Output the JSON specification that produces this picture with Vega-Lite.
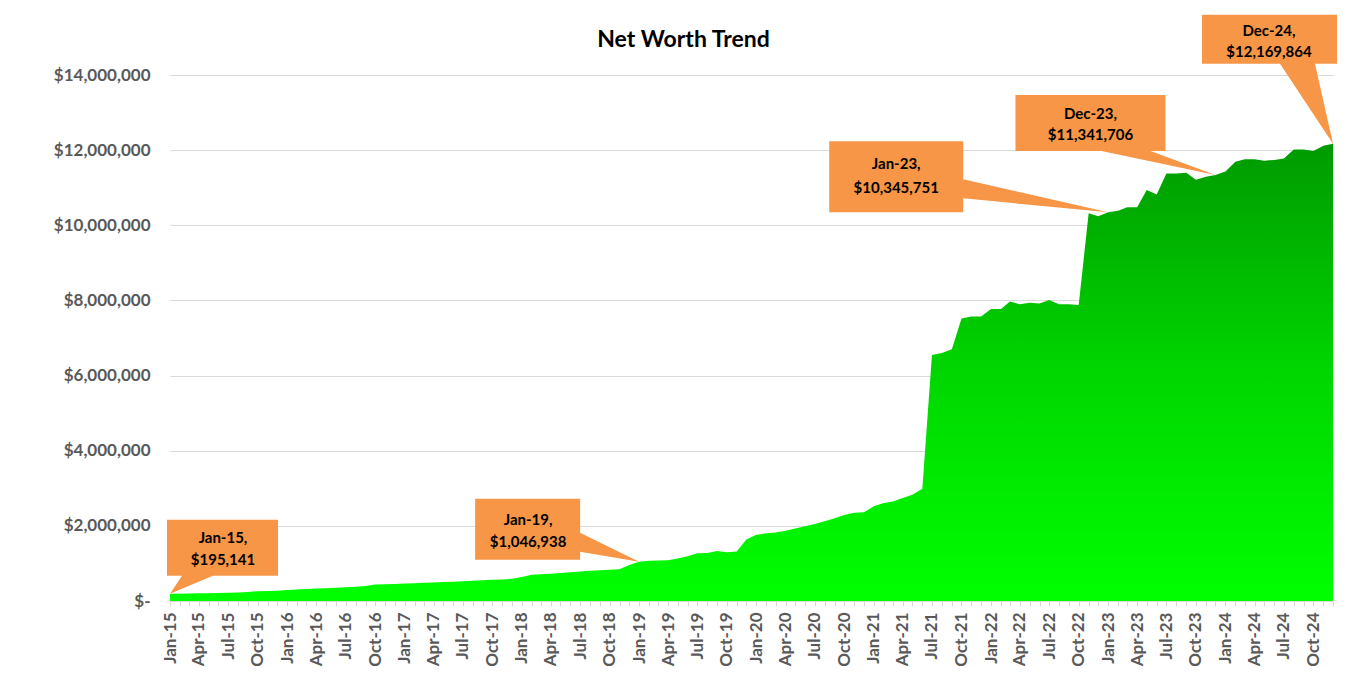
{
  "$schema": "https://vega.github.io/schema/vega-lite/v6.json",
  "autosize": {"type": "none"},
  "padding": {"left": 170, "top": 75, "right": 30, "bottom": 80},
  "width": 1163,
  "height": 526,
  "background": "#ffffff",
  "title": {"text": "Net Worth Trend", "font": "Lato", "fontSize": 23, "fontWeight": "bold", "color": "#000000", "anchor": "middle", "dx": -68, "dy": 63, "offset": 26},
  "config": {
    "view": {"stroke": null},
    "axis": {"labelFont": "Lato", "labelFontWeight": "bold", "labelColor": "#595959", "title": null}
  },
  "data": {"values": [
    {"date": "2015-01-01", "value": 195141}, {"date": "2015-02-01", "value": 196000}, {"date": "2015-03-01", "value": 199000}, {"date": "2015-04-01", "value": 203000}, {"date": "2015-05-01", "value": 207000}, {"date": "2015-06-01", "value": 212000}, {"date": "2015-07-01", "value": 218000}, {"date": "2015-08-01", "value": 225000}, {"date": "2015-09-01", "value": 240000}, {"date": "2015-10-01", "value": 262000}, {"date": "2015-11-01", "value": 268000}, {"date": "2015-12-01", "value": 275000},
    {"date": "2016-01-01", "value": 290000}, {"date": "2016-02-01", "value": 305000}, {"date": "2016-03-01", "value": 318000}, {"date": "2016-04-01", "value": 330000}, {"date": "2016-05-01", "value": 342000}, {"date": "2016-06-01", "value": 352000}, {"date": "2016-07-01", "value": 365000}, {"date": "2016-08-01", "value": 378000}, {"date": "2016-09-01", "value": 400000}, {"date": "2016-10-01", "value": 440000}, {"date": "2016-11-01", "value": 448000}, {"date": "2016-12-01", "value": 455000},
    {"date": "2017-01-01", "value": 465000}, {"date": "2017-02-01", "value": 475000}, {"date": "2017-03-01", "value": 485000}, {"date": "2017-04-01", "value": 495000}, {"date": "2017-05-01", "value": 505000}, {"date": "2017-06-01", "value": 515000}, {"date": "2017-07-01", "value": 525000}, {"date": "2017-08-01", "value": 538000}, {"date": "2017-09-01", "value": 550000}, {"date": "2017-10-01", "value": 565000}, {"date": "2017-11-01", "value": 575000}, {"date": "2017-12-01", "value": 590000},
    {"date": "2018-01-01", "value": 640000}, {"date": "2018-02-01", "value": 700000}, {"date": "2018-03-01", "value": 715000}, {"date": "2018-04-01", "value": 725000}, {"date": "2018-05-01", "value": 745000}, {"date": "2018-06-01", "value": 765000}, {"date": "2018-07-01", "value": 785000}, {"date": "2018-08-01", "value": 805000}, {"date": "2018-09-01", "value": 820000}, {"date": "2018-10-01", "value": 830000}, {"date": "2018-11-01", "value": 845000}, {"date": "2018-12-01", "value": 960000},
    {"date": "2019-01-01", "value": 1046938}, {"date": "2019-02-01", "value": 1070000}, {"date": "2019-03-01", "value": 1080000}, {"date": "2019-04-01", "value": 1085000}, {"date": "2019-05-01", "value": 1130000}, {"date": "2019-06-01", "value": 1190000}, {"date": "2019-07-01", "value": 1270000}, {"date": "2019-08-01", "value": 1280000}, {"date": "2019-09-01", "value": 1330000}, {"date": "2019-10-01", "value": 1300000}, {"date": "2019-11-01", "value": 1320000}, {"date": "2019-12-01", "value": 1640000},
    {"date": "2020-01-01", "value": 1760000}, {"date": "2020-02-01", "value": 1800000}, {"date": "2020-03-01", "value": 1820000}, {"date": "2020-04-01", "value": 1870000}, {"date": "2020-05-01", "value": 1930000}, {"date": "2020-06-01", "value": 1990000}, {"date": "2020-07-01", "value": 2050000}, {"date": "2020-08-01", "value": 2120000}, {"date": "2020-09-01", "value": 2200000}, {"date": "2020-10-01", "value": 2290000}, {"date": "2020-11-01", "value": 2350000}, {"date": "2020-12-01", "value": 2360000},
    {"date": "2021-01-01", "value": 2520000}, {"date": "2021-02-01", "value": 2610000}, {"date": "2021-03-01", "value": 2650000}, {"date": "2021-04-01", "value": 2740000}, {"date": "2021-05-01", "value": 2830000}, {"date": "2021-06-01", "value": 2990000}, {"date": "2021-07-01", "value": 6550000}, {"date": "2021-08-01", "value": 6600000}, {"date": "2021-09-01", "value": 6700000}, {"date": "2021-10-01", "value": 7520000}, {"date": "2021-11-01", "value": 7570000}, {"date": "2021-12-01", "value": 7570000},
    {"date": "2022-01-01", "value": 7770000}, {"date": "2022-02-01", "value": 7770000}, {"date": "2022-03-01", "value": 7970000}, {"date": "2022-04-01", "value": 7900000}, {"date": "2022-05-01", "value": 7940000}, {"date": "2022-06-01", "value": 7920000}, {"date": "2022-07-01", "value": 8010000}, {"date": "2022-08-01", "value": 7900000}, {"date": "2022-09-01", "value": 7900000}, {"date": "2022-10-01", "value": 7880000}, {"date": "2022-11-01", "value": 10320000}, {"date": "2022-12-01", "value": 10240000},
    {"date": "2023-01-01", "value": 10345751}, {"date": "2023-02-01", "value": 10390000}, {"date": "2023-03-01", "value": 10480000}, {"date": "2023-04-01", "value": 10480000}, {"date": "2023-05-01", "value": 10940000}, {"date": "2023-06-01", "value": 10820000}, {"date": "2023-07-01", "value": 11380000}, {"date": "2023-08-01", "value": 11380000}, {"date": "2023-09-01", "value": 11400000}, {"date": "2023-10-01", "value": 11210000}, {"date": "2023-11-01", "value": 11290000}, {"date": "2023-12-01", "value": 11341706},
    {"date": "2024-01-01", "value": 11430000}, {"date": "2024-02-01", "value": 11690000}, {"date": "2024-03-01", "value": 11760000}, {"date": "2024-04-01", "value": 11760000}, {"date": "2024-05-01", "value": 11720000}, {"date": "2024-06-01", "value": 11740000}, {"date": "2024-07-01", "value": 11780000}, {"date": "2024-08-01", "value": 12020000}, {"date": "2024-09-01", "value": 12020000}, {"date": "2024-10-01", "value": 11980000}, {"date": "2024-11-01", "value": 12120000}, {"date": "2024-12-01", "value": 12169864}
  ]},
  "encoding": {
    "x": {"field": "date", "type": "temporal", "scale": {"type": "utc", "nice": false},
      "axis": {"tickCount": {"interval": "month", "step": 1}, "labelAngle": 270, "labelFontSize": 17, "labelPadding": 6, "labelOverlap": false, "labelFlush": false, "labelBound": false, "grid": false, "domainColor": "#d9d9d9", "tickColor": "#d9d9d9", "tickSize": 5,
        "labelExpr": "utcmonth(datum.value) % 3 == 0 ? utcFormat(datum.value, '%b-%y') : ''"}},
    "y": {"field": "value", "type": "quantitative", "scale": {"domain": [0, 14000000], "nice": false},
      "axis": {"values": [0, 2000000, 4000000, 6000000, 8000000, 10000000, 12000000, 14000000], "labelFontSize": 17, "labelPadding": 20, "domain": false, "ticks": false, "gridColor": "#d9d9d9", "gridWidth": 1,
        "labelExpr": "datum.value == 0 ? '$-' : '$' + format(datum.value, ',')"}}
  },
  "layer": [
    {"mark": {"type": "area", "interpolate": "linear", "color": {"gradient": "linear", "x1": 0, "y1": 1, "x2": 0, "y2": 0, "stops": [{"offset": 0, "color": "#00ff00"}, {"offset": 0.5, "color": "#00d600"}, {"offset": 1, "color": "#009a00"}]}}},
    {"transform": [{"filter": "datum.value == 195141"}], "mark": {"type": "point", "filled": true, "opacity": 1, "size": 4, "color": "#F79646", "strokeWidth": 0, "shape": "M0,0 L12,-18 L-3,-18 L-3,-74 L108,-74 L108,-18 L43,-18 Z"}},
    {"transform": [{"filter": "datum.value == 1046938"}], "mark": {"type": "point", "filled": true, "opacity": 1, "size": 4, "color": "#F79646", "strokeWidth": 0, "shape": "M0,0 L-59,-10 L-59,-2 L-164,-2 L-164,-63 L-59,-63 L-59,-29 Z"}},
    {"transform": [{"filter": "datum.value == 10345751"}], "mark": {"type": "point", "filled": true, "opacity": 1, "size": 4, "color": "#F79646", "strokeWidth": 0, "shape": "M0,0 L-145,-14 L-145,0 L-279,0 L-279,-71 L-145,-71 L-145,-33 Z"}},
    {"transform": [{"filter": "datum.value == 11341706"}], "mark": {"type": "point", "filled": true, "opacity": 1, "size": 4, "color": "#F79646", "strokeWidth": 0, "shape": "M0,0 L-65,-24 L-50,-24 L-50,-80 L-200,-80 L-200,-24 L-114,-24 Z"}},
    {"transform": [{"filter": "datum.value == 12169864"}], "mark": {"type": "point", "filled": true, "opacity": 1, "size": 4, "color": "#F79646", "strokeWidth": 0, "shape": "M0,0 L-18,-80 L4,-80 L4,-129 L-131,-129 L-131,-80 L-53,-80 Z"}},
    {"transform": [{"filter": "datum.value == 195141"}], "mark": {"type": "text", "font": "Lato", "fontSize": 15, "fontWeight": "bold", "color": "#000000", "align": "center", "baseline": "middle", "dx": 53, "dy": -56}, "encoding": {"text": {"field": "date", "type": "temporal", "timeUnit": "utcyearmonth", "format": "%b-%y,"}}},
    {"transform": [{"filter": "datum.value == 195141"}], "mark": {"type": "text", "font": "Lato", "fontSize": 15, "fontWeight": "bold", "color": "#000000", "align": "center", "baseline": "middle", "dx": 53, "dy": -34}, "encoding": {"text": {"field": "value", "type": "quantitative", "format": "$,.0f"}}},
    {"transform": [{"filter": "datum.value == 1046938"}], "mark": {"type": "text", "font": "Lato", "fontSize": 15, "fontWeight": "bold", "color": "#000000", "align": "center", "baseline": "middle", "dx": -111, "dy": -42}, "encoding": {"text": {"field": "date", "type": "temporal", "timeUnit": "utcyearmonth", "format": "%b-%y,"}}},
    {"transform": [{"filter": "datum.value == 1046938"}], "mark": {"type": "text", "font": "Lato", "fontSize": 15, "fontWeight": "bold", "color": "#000000", "align": "center", "baseline": "middle", "dx": -111, "dy": -20}, "encoding": {"text": {"field": "value", "type": "quantitative", "format": "$,.0f"}}},
    {"transform": [{"filter": "datum.value == 10345751"}], "mark": {"type": "text", "font": "Lato", "fontSize": 15, "fontWeight": "bold", "color": "#000000", "align": "center", "baseline": "middle", "dx": -212, "dy": -48}, "encoding": {"text": {"field": "date", "type": "temporal", "timeUnit": "utcyearmonth", "format": "%b-%y,"}}},
    {"transform": [{"filter": "datum.value == 10345751"}], "mark": {"type": "text", "font": "Lato", "fontSize": 15, "fontWeight": "bold", "color": "#000000", "align": "center", "baseline": "middle", "dx": -212, "dy": -24}, "encoding": {"text": {"field": "value", "type": "quantitative", "format": "$,.0f"}}},
    {"transform": [{"filter": "datum.value == 11341706"}], "mark": {"type": "text", "font": "Lato", "fontSize": 15, "fontWeight": "bold", "color": "#000000", "align": "center", "baseline": "middle", "dx": -125, "dy": -61}, "encoding": {"text": {"field": "date", "type": "temporal", "timeUnit": "utcyearmonth", "format": "%b-%y,"}}},
    {"transform": [{"filter": "datum.value == 11341706"}], "mark": {"type": "text", "font": "Lato", "fontSize": 15, "fontWeight": "bold", "color": "#000000", "align": "center", "baseline": "middle", "dx": -125, "dy": -40}, "encoding": {"text": {"field": "value", "type": "quantitative", "format": "$,.0f"}}},
    {"transform": [{"filter": "datum.value == 12169864"}], "mark": {"type": "text", "font": "Lato", "fontSize": 15, "fontWeight": "bold", "color": "#000000", "align": "center", "baseline": "middle", "dx": -64, "dy": -113}, "encoding": {"text": {"field": "date", "type": "temporal", "timeUnit": "utcyearmonth", "format": "%b-%y,"}}},
    {"transform": [{"filter": "datum.value == 12169864"}], "mark": {"type": "text", "font": "Lato", "fontSize": 15, "fontWeight": "bold", "color": "#000000", "align": "center", "baseline": "middle", "dx": -64, "dy": -92}, "encoding": {"text": {"field": "value", "type": "quantitative", "format": "$,.0f"}}}
  ]
}
